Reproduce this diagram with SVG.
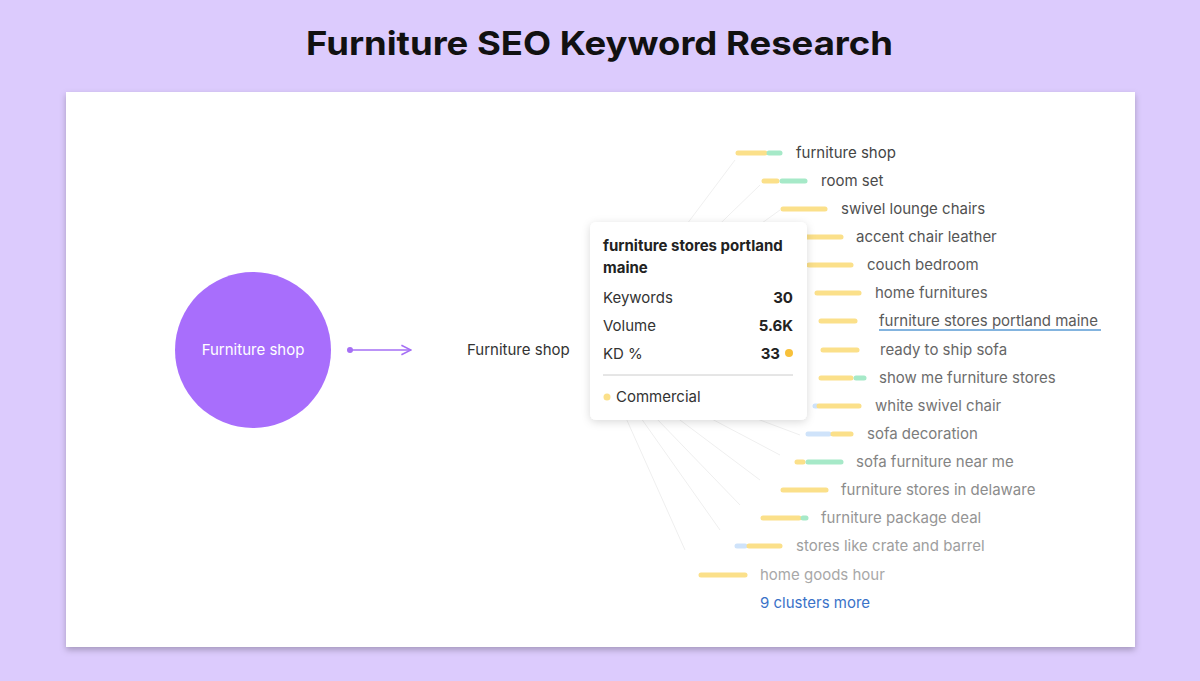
<svg xmlns="http://www.w3.org/2000/svg" width="1200" height="681" viewBox="0 0 1200 681">
<defs>
<filter id="sh" x="-20%" y="-20%" width="140%" height="140%"><feDropShadow dx="0" dy="2" stdDeviation="4" flood-color="#000" flood-opacity="0.15"/></filter>
<filter id="sh2" x="-20%" y="-20%" width="140%" height="140%"><feDropShadow dx="0" dy="3" stdDeviation="3" flood-color="#000" flood-opacity="0.25"/></filter>
<marker id="ah" viewBox="0 0 10 10" refX="9" refY="5" markerWidth="8" markerHeight="8" orient="auto"><path d="M1,1 L9,5 L1,9" fill="none" stroke="#a56ff5" stroke-width="1.3"/></marker>
</defs>
<style>
text{font-family:Inter,"Noto Sans",sans-serif}
.kw{font-size:15px}
.b{stroke-width:5;stroke-linecap:round}
.y{stroke:#fbe08a}.g{stroke:#a6e9c8}.u{stroke:#cfe3fa}
.ln{stroke:#efefef;stroke-width:1;fill:none}
.tt{font-size:15px;fill:#333}
.tv{font-size:15px;fill:#222;font-weight:700;text-anchor:end}
</style>
<rect width="1200" height="681" fill="#dccbfd"/>
<text x="306" y="55" textLength="587" lengthAdjust="spacingAndGlyphs" font-family="Montserrat,'Open Sans',sans-serif" font-weight="700" font-size="33" fill="#111">Furniture SEO Keyword Research</text>
<rect x="66" y="92" width="1069" height="555" fill="#fff" filter="url(#sh2)"/>
<g id="connectors">
<line x1="350" y1="350" x2="411" y2="350" stroke="#a56ff5" stroke-width="1.5" marker-end="url(#ah)"/>
<circle cx="350" cy="350" r="3" fill="#a56ff5"/>
<path class="ln" d="M600 340L735 160M600 340L760 185M600 340L780 210M600 360L685 550M600 360L720 530M600 360L740 505M600 360L760 480M600 360L780 455M600 360L800 435"/>
</g>
<g id="root"><circle cx="253" cy="350" r="78" fill="#a86efc"/><text x="253" y="355" text-anchor="middle" font-size="15" fill="#fff">Furniture shop</text></g>
<g id="cluster"><text x="467" y="355" font-size="15" fill="#333">Furniture shop</text></g>
<g id="kw1"><line class="b y" x1="738" y1="153" x2="765" y2="153"/><line class="b g" x1="769" y1="153" x2="780" y2="153"/><text class="kw" x="796" y="158" fill="#444">furniture shop</text></g>
<g id="kw2"><line class="b y" x1="764" y1="181" x2="777" y2="181"/><line class="b g" x1="782" y1="181" x2="805" y2="181"/><text class="kw" x="821" y="186" fill="#4a4a4a">room set</text></g>
<g id="kw3"><line class="b y" x1="783" y1="209" x2="825" y2="209"/><text class="kw" x="841" y="214" fill="#505050">swivel lounge chairs</text></g>
<g id="kw4"><line class="b y" x1="801" y1="237" x2="841" y2="237"/><text class="kw" x="856" y="242" fill="#555">accent chair leather</text></g>
<g id="kw5"><line class="b y" x1="809" y1="265" x2="851" y2="265"/><text class="kw" x="867" y="270" fill="#5a5a5a">couch bedroom</text></g>
<g id="kw6"><line class="b y" x1="817" y1="293" x2="859" y2="293"/><text class="kw" x="875" y="298" fill="#5e5e5e">home furnitures</text></g>
<g id="kw7"><line class="b y" x1="821" y1="321" x2="855" y2="321"/><text class="kw" x="879" y="326" fill="#5a5a5a">furniture stores portland maine</text><line x1="879" y1="330" x2="1101" y2="330" stroke="#5a9bd5" stroke-width="1.3"/></g>
<g id="kw8"><line class="b y" x1="823" y1="350" x2="857" y2="350"/><text class="kw" x="880" y="355" fill="#666">ready to ship sofa</text></g>
<g id="kw9"><line class="b y" x1="821" y1="378" x2="851" y2="378"/><line class="b g" x1="856" y1="378" x2="864" y2="378"/><text class="kw" x="879" y="383" fill="#6c6c6c">show me furniture stores</text></g>
<g id="kw10"><line class="b u" x1="815" y1="406" x2="817" y2="406"/><line class="b y" x1="819" y1="406" x2="859" y2="406"/><text class="kw" x="875" y="411" fill="#747474">white swivel chair</text></g>
<g id="kw11"><line class="b u" x1="808" y1="434" x2="829" y2="434"/><line class="b y" x1="833" y1="434" x2="851" y2="434"/><text class="kw" x="867" y="439" fill="#7c7c7c">sofa decoration</text></g>
<g id="kw12"><line class="b y" x1="797" y1="462" x2="803" y2="462"/><line class="b g" x1="808" y1="462" x2="841" y2="462"/><text class="kw" x="856" y="467" fill="#848484">sofa furniture near me</text></g>
<g id="kw13"><line class="b y" x1="783" y1="490" x2="826" y2="490"/><text class="kw" x="841" y="495" fill="#8c8c8c">furniture stores in delaware</text></g>
<g id="kw14"><line class="b y" x1="763" y1="518" x2="799" y2="518"/><line class="b g" x1="803" y1="518" x2="806" y2="518"/><text class="kw" x="821" y="523" fill="#959595">furniture package deal</text></g>
<g id="kw15"><line class="b u" x1="737" y1="546" x2="745" y2="546"/><line class="b y" x1="749" y1="546" x2="780" y2="546"/><text class="kw" x="796" y="551" fill="#9e9e9e">stores like crate and barrel</text></g>
<g id="kw16"><line class="b y" x1="701" y1="575" x2="745" y2="575"/><text class="kw" x="760" y="580" fill="#a8a8a8">home goods hour</text></g>
<g id="more"><text x="760" y="608" font-size="15" fill="#3a72c8">9 clusters more</text></g>
<g id="tooltip">
<rect x="590" y="222" width="217" height="198" rx="6" fill="#fff" filter="url(#sh)"/>
<text x="603" y="251" font-size="15" font-weight="700" fill="#222">furniture stores portland</text>
<text x="603" y="273" font-size="15" font-weight="700" fill="#222">maine</text>
<text class="tt" x="603" y="303">Keywords</text><text class="tv" x="793" y="303">30</text>
<text class="tt" x="603" y="331">Volume</text><text class="tv" x="793" y="331">5.6K</text>
<text class="tt" x="603" y="359">KD %</text><text class="tv" x="780" y="359">33</text><circle cx="789" cy="353" r="4" fill="#f8c13a"/>
<line x1="603" y1="375" x2="793" y2="375" stroke="#ccc"/>
<circle cx="607" cy="397" r="3.5" fill="#fbe08a"/><text class="tt" x="616" y="402">Commercial</text>
</g>
</svg>
